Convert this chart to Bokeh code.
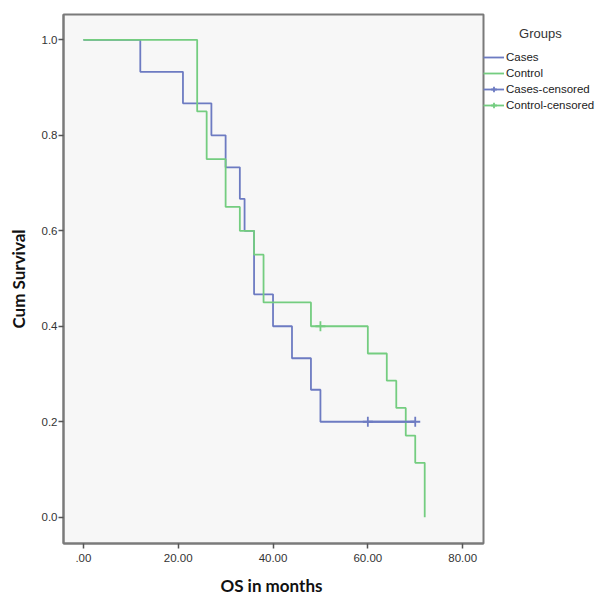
from bokeh.plotting import figure
from bokeh.models import Range1d, FixedTicker, Legend, LegendItem
from bokeh.embed import file_html
from bokeh.resources import INLINE

# ---- data ----
cases_time = [0, 12, 21, 27, 30, 33, 34, 36, 40, 44, 48, 50, 70]
cases_surv = [1.0, 0.933, 0.867, 0.8, 0.733, 0.667, 0.6, 0.467, 0.4, 0.333, 0.267, 0.2, 0.2]
control_time = [0, 24, 26, 30, 33, 36, 38, 48, 60, 64, 66, 68, 70, 72]
control_surv = [1.0, 0.85, 0.75, 0.65, 0.6, 0.55, 0.45, 0.4, 0.343, 0.286, 0.229, 0.171, 0.114, 0.0]
cases_cens_time = [60, 70]
cases_cens_surv = [0.2, 0.2]
control_cens_time = [50]
control_cens_surv = [0.4]

x_ticks = [0, 20, 40, 60, 80]
x_tick_labels = [".00", "20.00", "40.00", "60.00", "80.00"]
y_ticks = [0.0, 0.2, 0.4, 0.6, 0.8, 1.0]
y_tick_labels = ["0.0", "0.2", "0.4", "0.6", "0.8", "1.0"]

legend_title = "Groups"
legend_labels = ["Cases", "Control", "Cases-censored", "Control-censored"]

BLUE = "#6d7bc2"
GREEN = "#74cd80"
FRAME = "#7a7a7a"

p = figure(frame_width=420, frame_height=529, output_backend="svg", toolbar_location=None,
           x_range=Range1d(-4.2, 84.4), y_range=Range1d(-0.055, 1.053),
           min_border_left=63, min_border_right=129, min_border_top=14, min_border_bottom=54)

p.background_fill_color = "#f7f7f7"
p.border_fill_color = "white"
p.outline_line_color = FRAME
p.outline_line_width = 2
p.xgrid.visible = False
p.ygrid.visible = False

r_cases = p.step(cases_time, cases_surv, mode="after", line_color=BLUE, line_width=1.8)
r_control = p.step(control_time, control_surv, mode="after", line_color=GREEN, line_width=1.8)
# line through the censored points (lies on the survival line; gives the legend its stroke)
r_cc_line = p.line(cases_cens_time, cases_cens_surv, line_color=BLUE, line_width=1.8)
r_kc_line = p.line(control_cens_time, control_cens_surv, line_color=GREEN, line_width=1.8)
r_cc = p.scatter(cases_cens_time, cases_cens_surv, marker="cross", size=10,
                 line_color=BLUE, line_width=1.8)
r_kc = p.scatter(control_cens_time, control_cens_surv, marker="cross", size=10,
                 line_color=GREEN, line_width=1.8)

for ax, ticks, labels in ((p.xaxis[0], x_ticks, x_tick_labels), (p.yaxis[0], y_ticks, y_tick_labels)):
    ax.ticker = FixedTicker(ticks=ticks)
    ax.major_label_overrides = {t: l for t, l in zip(ticks, labels)}
    ax.minor_tick_line_color = None
    ax.major_tick_in = 0
    ax.major_tick_out = 5
    ax.major_tick_line_color = "#555555"
    ax.major_tick_line_width = 1.5
    ax.axis_line_color = FRAME
    ax.axis_line_width = 2
    ax.major_label_text_font = "Liberation Sans"
    ax.major_label_text_font_size = "11.5px"
    ax.major_label_text_color = "#333333"
    ax.axis_label_text_font = "Lato"
    ax.axis_label_text_font_style = "bold"
    ax.axis_label_text_font_size = "17px"
    ax.axis_label_text_color = "#111111"

p.xaxis.axis_label = "OS  in months"
p.yaxis.axis_label = "Cum Survival"
p.xaxis.major_label_standoff = 5
p.xaxis.axis_label_standoff = 10
p.yaxis.major_label_standoff = 1
p.yaxis.axis_label_standoff = 10

legend = Legend(items=[LegendItem(label=legend_labels[0], renderers=[r_cases]),
                       LegendItem(label=legend_labels[1], renderers=[r_control]),
                       LegendItem(label=legend_labels[2], renderers=[r_cc_line, r_cc]),
                       LegendItem(label=legend_labels[3], renderers=[r_kc_line, r_kc])],
                location=(0, 431), title="\u00a0" * 10 + legend_title)
legend.margin = 0
legend.padding = 2
legend.spacing = 2
legend.label_height = 14
legend.glyph_height = 14
legend.glyph_width = 21
legend.label_standoff = 2
legend.border_line_color = None
legend.background_fill_alpha = 0
legend.label_text_font = "Liberation Sans"
legend.label_text_font_size = "11.5px"
legend.label_text_color = "#222222"
legend.title_text_font = "Liberation Sans"
legend.title_text_font_style = "normal"
legend.title_text_font_size = "13px"
legend.title_text_color = "#333333"
legend.title_standoff = 9
p.add_layout(legend, "right")

open("out.html", "w").write(file_html(p, INLINE))
